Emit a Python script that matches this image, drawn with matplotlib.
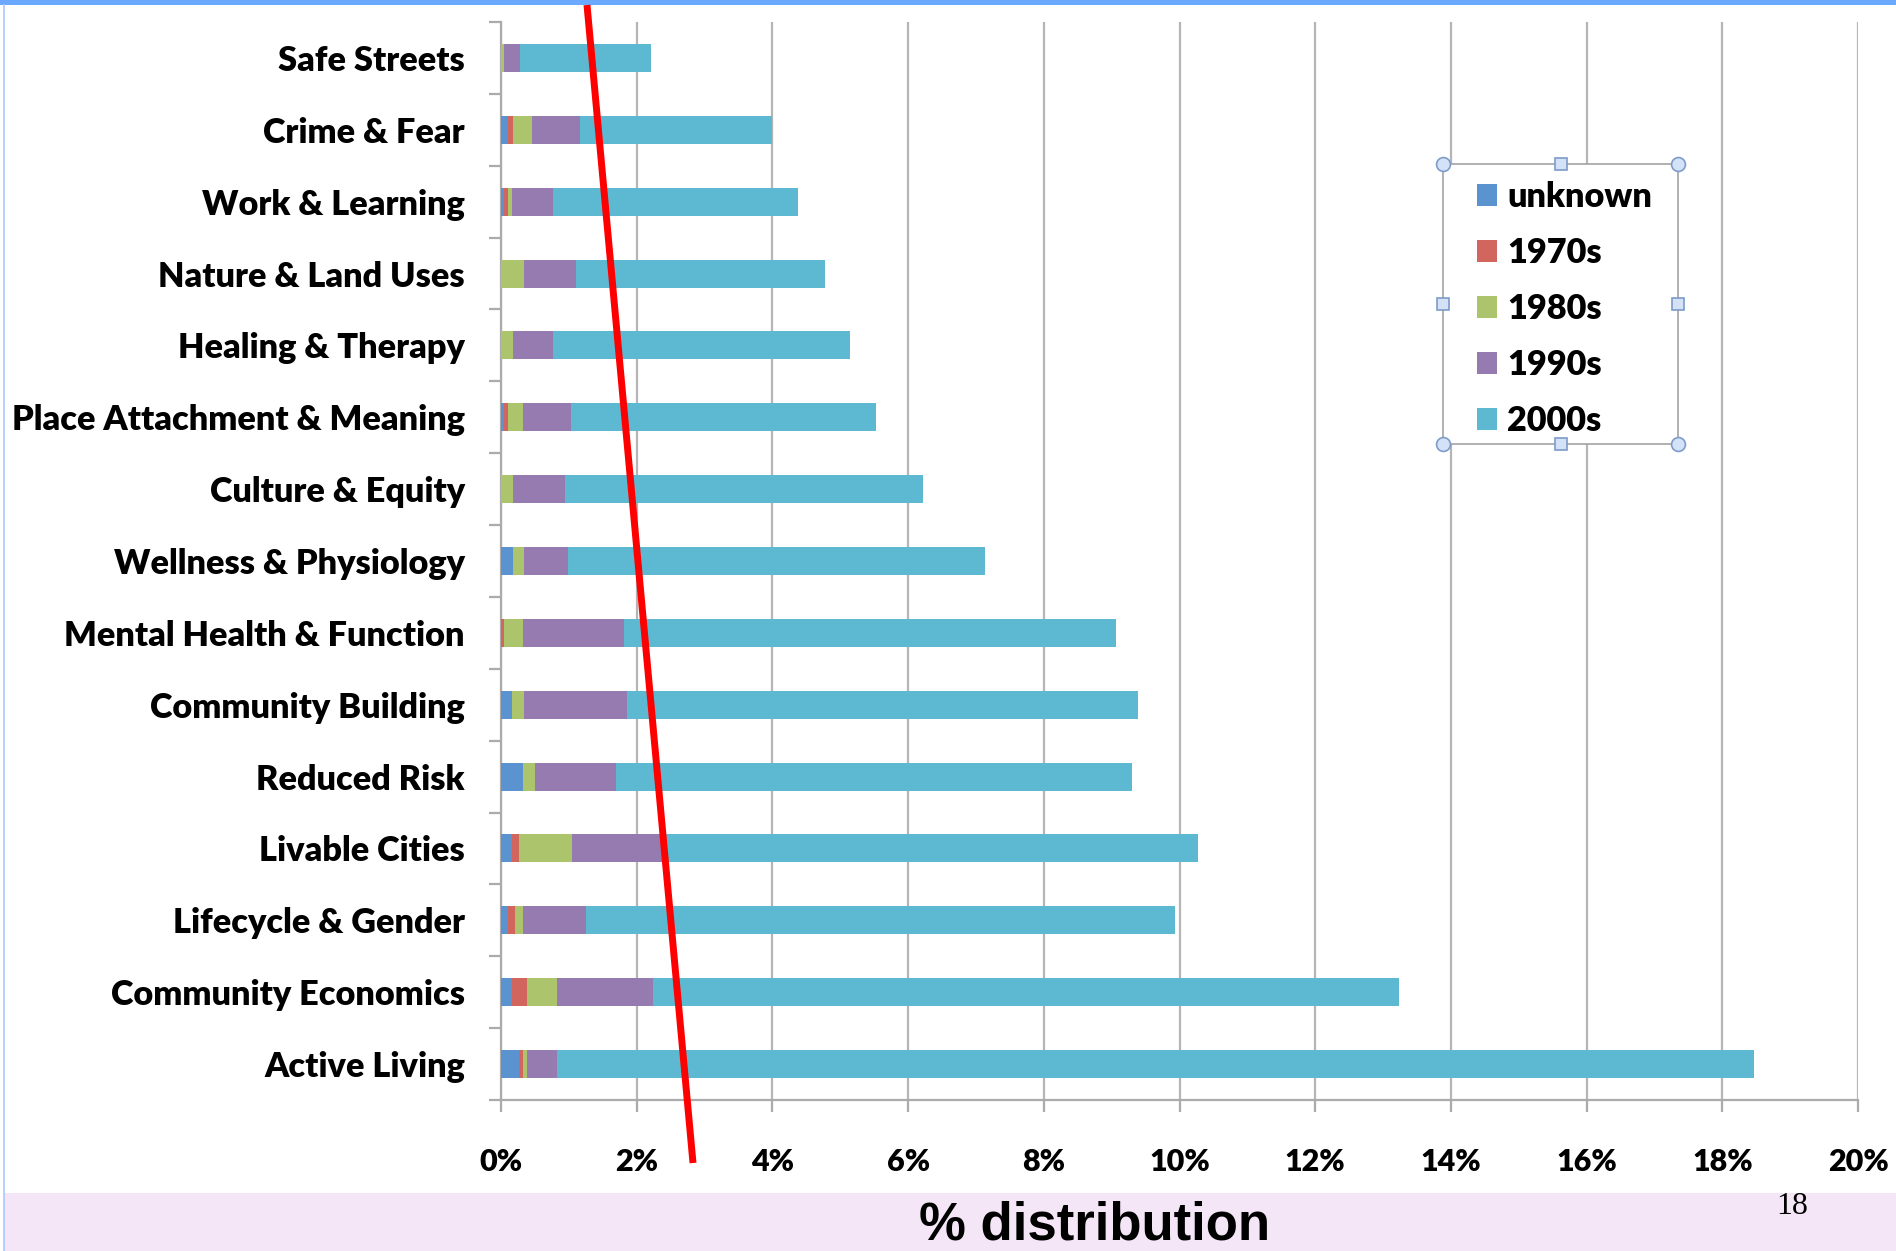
import numpy as np
import matplotlib
matplotlib.use("Agg")
import matplotlib.pyplot as plt
from matplotlib.patches import Rectangle
from matplotlib.lines import Line2D
from matplotlib.ticker import FixedLocator, FuncFormatter

# ---------------- data (percent of all records) ----------------
categories = ["Safe Streets", "Crime & Fear", "Work & Learning", "Nature & Land Uses",
              "Healing & Therapy", "Place Attachment & Meaning", "Culture & Equity",
              "Wellness & Physiology", "Mental Health & Function", "Community Building",
              "Reduced Risk", "Livable Cities", "Lifecycle & Gender",
              "Community Economics", "Active Living"]
series_names = ["unknown", "1970s", "1980s", "1990s", "2000s"]
unknown = [0.00, 0.11, 0.05, 0.00, 0.00, 0.05, 0.00, 0.17, 0.00, 0.16, 0.33, 0.16, 0.10, 0.16, 0.27]
s1970 = [0.00, 0.06, 0.06, 0.00, 0.00, 0.06, 0.00, 0.00, 0.04, 0.00, 0.00, 0.11, 0.11, 0.22, 0.05]
s1980 = [0.05, 0.28, 0.05, 0.34, 0.17, 0.22, 0.17, 0.17, 0.29, 0.18, 0.17, 0.78, 0.12, 0.45, 0.06]
s1990 = [0.23, 0.71, 0.60, 0.76, 0.60, 0.70, 0.77, 0.65, 1.49, 1.52, 1.20, 1.33, 0.92, 1.41, 0.44]
s2000 = [1.93, 2.84, 3.62, 3.67, 4.38, 4.50, 5.28, 6.15, 7.25, 7.53, 7.60, 7.90, 8.69, 10.99, 17.65]
x_ticks = [0, 2, 4, 6, 8, 10, 12, 14, 16, 18, 20]
series_colors = ["#5b93d0", "#d2655d", "#acc46c", "#967bb0", "#5cb9d1"]

W, H = 1896, 1251
plt.rcParams['font.family'] = ['Lato', 'DejaVu Sans']
WEIGHT = "heavy"

fig = plt.figure(figsize=(W / 100, H / 100), dpi=100)
fig.patch.set_facecolor("white")

def px(x, y):
    return x / W, 1 - y / H

# background decorations
fig.add_artist(Rectangle(px(0, 5), 1, 5 / H, transform=fig.transFigure,
                         facecolor="#6aa9fd", edgecolor="none", zorder=0))
fig.add_artist(Rectangle(px(4, H), 1, (H - 1193) / H, transform=fig.transFigure,
                         facecolor="#f5e6f7", edgecolor="none", zorder=0))
fig.add_artist(Line2D([4 / W, 4 / W], [0, 1 - 5 / H], transform=fig.transFigure,
                      color="#a9c8fb", lw=1.2, zorder=0))

ax_l, ax_r, ax_t, ax_b = 501, 1858, 22, 1100
ax = fig.add_axes([ax_l / W, 1 - ax_b / H, (ax_r - ax_l) / W, (ax_b - ax_t) / H])
ax.set_facecolor("none")

n = len(categories)
ypos = np.arange(n)[::-1]
data = [unknown, s1970, s1980, s1990, s2000]
left = np.zeros(n)
handles = []
for name, vals, col in zip(series_names, data, series_colors):
    vals = np.array(vals)
    b = ax.barh(ypos, vals, left=left, height=0.39, color=col, edgecolor="none",
                label=name, zorder=3)
    handles.append(b)
    left += vals

ax.set_xlim(0, 20)
ax.set_ylim(-0.5, n - 0.5)

grey = "#ababab"
ax.xaxis.set_major_locator(FixedLocator(x_ticks))
ax.xaxis.set_major_formatter(FuncFormatter(lambda v, p: f"{v:.0f}%"))
ax.xaxis.grid(True, color="#b5b5b5", lw=1.6, zorder=0)
ax.set_axisbelow(True)
for s in ["top", "right"]:
    ax.spines[s].set_visible(False)
for s in ["left", "bottom"]:
    ax.spines[s].set_color(grey)
    ax.spines[s].set_linewidth(1.6)

ax.set_yticks(ypos)
ax.set_yticklabels(categories)
ax.yaxis.set_minor_locator(FixedLocator(np.arange(-0.5, n, 1.0)))
ax.tick_params(axis="y", which="major", length=0, pad=26, labelsize=24.7)
ax.tick_params(axis="y", which="minor", length=8.6, width=1.6, color=grey)
ax.tick_params(axis="x", which="major", length=8.6, width=1.6, color=grey,
               pad=26, labelsize=22)
for lab in ax.get_yticklabels() + ax.get_xticklabels():
    lab.set_fontweight(WEIGHT)

ax.set_xlabel("% distribution", fontsize=38, fontweight="bold",
              family=["Liberation Sans", "DejaVu Sans"])
ax.xaxis.set_label_coords((1095 - ax_l) / (ax_r - ax_l), -(1251 - ax_b) / (ax_b - ax_t))
ax.xaxis.label.set_va("bottom")

# legend frame (selection-style box) drawn inside the axes layer
lx0, ly0, lx1, ly1 = 1443, 164, 1678, 444
fx0, fy0 = px(lx0, ly1)
fx1, fy1 = px(lx1, ly0)
ax.add_patch(Rectangle((fx0, fy0), fx1 - fx0, fy1 - fy0, transform=fig.transFigure,
                       facecolor="white", edgecolor="#a3a3a3", lw=1.2, zorder=5,
                       clip_on=False))
xm = (lx0 + lx1) / 2
ym = (ly0 + ly1) / 2
for (hx, hy) in [(lx0, ly0), (lx1, ly0), (lx0, ly1), (lx1, ly1)]:
    ax.add_line(Line2D([hx / W], [1 - hy / H], transform=fig.transFigure, marker="o",
                       ms=10, mfc="#d3e2f6", mec="#7d9cc8", mew=1.2, zorder=7,
                       clip_on=False))
for (hx, hy) in [(xm, ly0), (xm, ly1), (lx0, ym), (lx1, ym)]:
    ax.add_line(Line2D([hx / W], [1 - hy / H], transform=fig.transFigure, marker="s",
                       ms=9, mfc="#d3e2f6", mec="#7d9cc8", mew=1.2, zorder=7,
                       clip_on=False))

leg = ax.legend(handles=handles, loc="upper left", frameon=False,
                bbox_to_anchor=px(1477, 181), bbox_transform=fig.transFigure,
                borderpad=0, borderaxespad=0, handlelength=0.58, handleheight=0.58,
                handletextpad=0.3, labelspacing=0.70,
                prop={"weight": WEIGHT, "size": 24.7})
leg.set_zorder(8)

# red annotation stroke
fig.add_artist(Line2D([587 / W, 693 / W], [1 - 5 / H, 1 - 1163 / H], transform=fig.transFigure,
                      color="#ff0000", lw=5, solid_capstyle="butt", zorder=10))

# page number
fig.text(1792 / W, 1 - 1207 / H, "18", ha="center", va="center", fontsize=23,
         family=["Liberation Serif", "DejaVu Serif"], zorder=10)

fig.savefig("out.png", dpi=100, facecolor="white")
